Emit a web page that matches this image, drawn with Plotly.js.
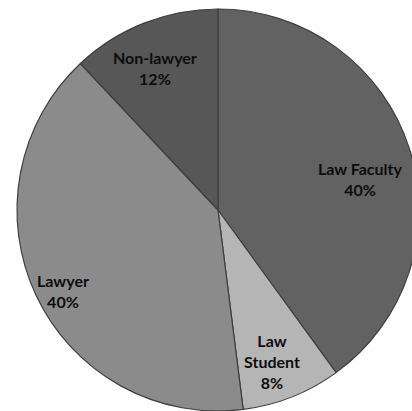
<!DOCTYPE html>
<html>
<head>
<meta charset="utf-8">
<script src="https://cdn.plot.ly/plotly-3.0.1.min.js"></script>
<style>
html, body { margin: 0; padding: 0; overflow: hidden; background: #ffffff; }
#chart { width: 440px; height: 420px; }
</style>
</head>
<body>
<div id="chart"></div>
<script>
// Data
var categories = ["Law Faculty", "Law Student", "Lawyer", "Non-lawyer"];
var labelLines = [["Law Faculty"], ["Law", "Student"], ["Lawyer"], ["Non-lawyer"]];
var percents = [40, 8, 40, 12];
var sliceColors = ["#626262", "#b5b5b5", "#8b8b8b", "#575757"];

// Label placement (paper coords) – styling only
var labelPos = [[0.855, 0.577], [0.634, 0.123], [0.114, 0.2985], [0.344, 0.853]];

var trace = {
  type: "pie",
  labels: categories,
  values: percents,
  sort: false,
  direction: "clockwise",
  rotation: 0,
  textinfo: "none",
  hoverinfo: "label+percent",
  marker: { colors: sliceColors, line: { color: "#3e3e3e", width: 1.2 } },
  domain: { x: [0, 1], y: [0, 1] },
  showlegend: false
};

var annotations = categories.map(function (c, i) {
  return {
    xref: "paper", yref: "paper",
    x: labelPos[i][0], y: labelPos[i][1],
    xanchor: "center", yanchor: "middle",
    text: labelLines[i].concat([percents[i] + "%"]).join("<br>"),
    showarrow: false,
    align: "center",
    font: { family: "Lato, 'Open Sans', sans-serif", size: 16, color: "#0d0d0d", weight: "bold" }
  };
});

var layout = {
  width: 440, height: 420,
  margin: { l: 17, r: 21, t: 9, b: 9, pad: 0 },
  paper_bgcolor: "#ffffff",
  plot_bgcolor: "#ffffff",
  annotations: annotations,
  showlegend: false
};

Plotly.newPlot("chart", [trace], layout, { staticPlot: true, displayModeBar: false });
</script>
</body>
</html>
